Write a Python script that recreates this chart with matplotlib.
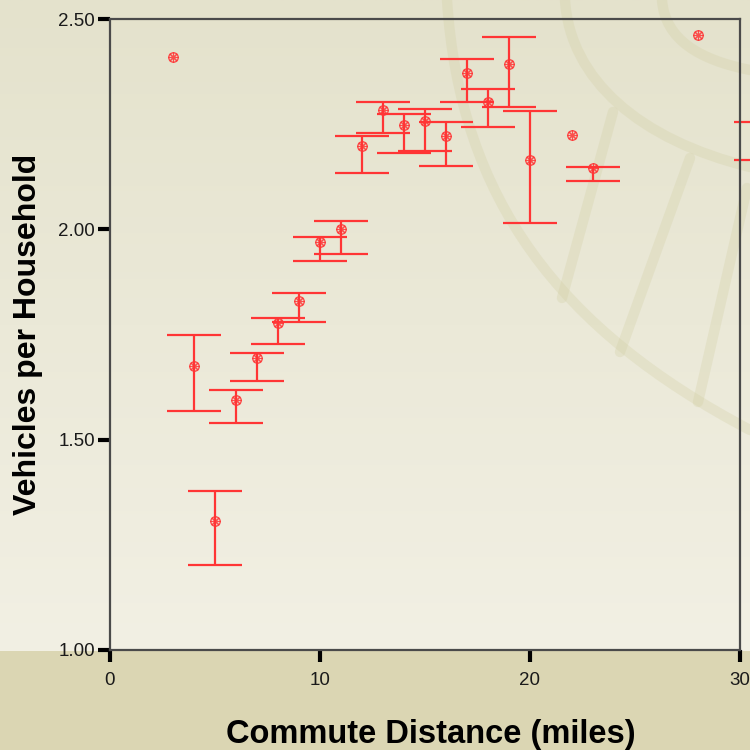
import numpy as np
import matplotlib
matplotlib.use("Agg")
import matplotlib.pyplot as plt
from matplotlib.patches import Rectangle, PathPatch
from matplotlib.path import Path

# ---------------------------------------------------------------
#  Data
# ---------------------------------------------------------------
distance = [3, 4, 5, 6, 7, 8, 9, 10, 11, 12, 13, 14, 15, 16, 17, 18, 19, 20, 22, 23, 28, 31]
mean_vehicles = [2.410, 1.674, 1.306, 1.594, 1.694, 1.778, 1.830, 1.970, 2.001, 2.199, 2.283,
                 2.247, 2.257, 2.221, 2.371, 2.303, 2.392, 2.164, 2.225, 2.146, 2.461, 2.210]
ci_upper = [np.nan, 1.748, 1.379, 1.618, 1.707, 1.790, 1.848, 1.982, 2.019, 2.223, 2.302,
            2.275, 2.286, 2.255, 2.405, 2.333, 2.458, 2.281, np.nan, 2.149, np.nan, 2.254]
ci_lower = [np.nan, 1.567, 1.201, 1.540, 1.639, 1.727, 1.780, 1.925, 1.941, 2.134, 2.228,
            2.182, 2.186, 2.151, 2.302, 2.244, 2.291, 2.015, np.nan, 2.114, np.nan, 2.166]

x_ticks = [0, 10, 20, 30]
y_ticks = [1.00, 1.50, 2.00, 2.50]

RED = "#ff3535"
FONT = "Liberation Sans"

fig = plt.figure(figsize=(7.5, 7.5), dpi=100)

# ---------------------------------------------------------------
#  Background: gradient, bottom band, faint watermark
# ---------------------------------------------------------------
bg = fig.add_axes([0, 0, 1, 1], zorder=-10)
bg.set_xlim(0, 750)
bg.set_ylim(750, 0)
bg.axis("off")
top_c = np.array([228, 226, 204]) / 255
bot_c = np.array([242, 240, 228]) / 255
t = np.linspace(0, 1, 256)[:, None]
grad = top_c[None, :] * (1 - t) + bot_c[None, :] * t
bg.imshow(grad[:, None, :], extent=[0, 750, 651, 0], aspect="auto")
bg.add_patch(Rectangle((0, 651), 750, 99, color="#dbd6b3", lw=0))

wm = dict(edgecolor="#d2cfa4", facecolor="none", lw=7.5, alpha=0.3, capstyle="round")
curves = [
    [(447, 0), (460, 200), (560, 330), (750, 430)],
    [(565, 0), (570, 80), (640, 140), (750, 167)],
    [(662, 0), (665, 40), (700, 60), (750, 70)],
]
for pts in curves:
    bg.add_patch(PathPatch(Path(pts, [Path.MOVETO, Path.CURVE4, Path.CURVE4, Path.CURVE4]), **wm))
for p0, p1 in [((613, 112), (562, 298)), ((690, 158), (620, 352)), ((747, 188), (698, 402))]:
    bg.add_patch(PathPatch(Path([p0, p1]), **wm))

# ---------------------------------------------------------------
#  Main axes
# ---------------------------------------------------------------
ax = fig.add_axes([109.5 / 750, 100 / 750, 630.5 / 750, 631 / 750])
ax.set_facecolor("none")

x = np.array(distance, dtype=float)
m = np.array(mean_vehicles)
up = np.array(ci_upper)
lo = np.array(ci_lower)
has_err = ~np.isnan(up)

eb = ax.errorbar(x[has_err], m[has_err],
                 yerr=[m[has_err] - lo[has_err], up[has_err] - m[has_err]],
                 fmt="none", ecolor=RED, elinewidth=1.6, capsize=19.5, capthick=1.6)
for child in eb.get_children():
    child.set_clip_on(False)

ax.plot(x, m, linestyle="none", marker="o", markersize=6.8, mfc="none", mec=RED,
        mew=1.0, alpha=0.85, clip_on=False)
ax.plot(x, m, linestyle="none", marker=(8, 2, 0), markersize=7.5, mec=RED,
        mew=0.8, alpha=0.85, clip_on=False)

ax.set_xlim(0, 30)
ax.set_ylim(1.0, 2.5)
ax.set_xticks(x_ticks)
ax.set_yticks(y_ticks)
ax.set_yticklabels([f"{v:.2f}" for v in y_ticks])

for s in ax.spines.values():
    s.set_color("#4a4a4a")
    s.set_linewidth(1.6)

ax.tick_params(axis="both", direction="out", color="black", width=3, length=8.5,
               labelsize=13.5, labelcolor="#1a1a1a")
ax.tick_params(axis="x", pad=7)
ax.tick_params(axis="y", pad=2)
for lab in ax.get_xticklabels() + ax.get_yticklabels():
    lab.set_family(FONT)

fig.text(28 / 750, 1 - 334 / 750, "Vehicles per Household", rotation=90,
         ha="center", va="center", fontsize=23, fontweight="bold", family=FONT)
fig.text(431 / 750, 7 / 750, "Commute Distance (miles)", ha="center", va="baseline",
         fontsize=23.5, fontweight="bold", family=FONT)

fig.savefig("out.png", dpi=100)
